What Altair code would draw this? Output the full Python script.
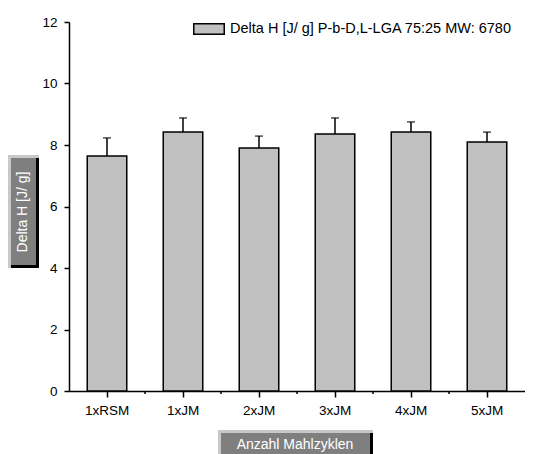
import altair as alt
import pandas as pd

categories = ["1xRSM", "1xJM", "2xJM", "3xJM", "4xJM", "5xJM"]
values = [7.64, 8.42, 7.90, 8.36, 8.42, 8.10]
errors = [0.59, 0.46, 0.39, 0.52, 0.33, 0.32]
series_name = "Delta H [J/ g] P-b-D,L-LGA 75:25 MW: 6780"
y_title = "Delta H [J/ g]"
x_title = "Anzahl Mahlzyklen"
y_ticks = list(range(0, 13))

df = pd.DataFrame({
    "cat": categories,
    "val": values,
    "err": errors,
})
df["top"] = df["val"] + df["err"]
df["series"] = series_name

FONT = "Liberation Sans"
W, H = 456, 369
STEP = W / len(categories)

xenc = alt.X("cat:N", sort=categories, title=None,
             scale=alt.Scale(paddingInner=0.48, paddingOuter=0.24),
             axis=alt.Axis(labelAngle=0, labelFontSize=13.5, labelFont=FONT, labelColor="black",
                           tickSize=6, tickWidth=1.5, tickColor="black", domainColor="black",
                           domainWidth=1.5, labelPadding=6))
yenc = alt.Y("val:Q", title=None,
             scale=alt.Scale(domain=[0, 12], nice=False),
             axis=alt.Axis(values=y_ticks, labelExpr="datum.value % 2 == 0 ? datum.label : ''",
                           labelFontSize=13.5, labelFont=FONT, labelColor="black",
                           tickSize=5, tickWidth=1.5, tickColor="black", domainColor="black",
                           domainWidth=1.5, labelPadding=7, grid=False))

base = alt.Chart(df)

bars = base.mark_bar(stroke="black", strokeWidth=1.5).encode(
    x=xenc, y=yenc,
    fill=alt.Fill("series:N", title=None,
                  scale=alt.Scale(domain=[series_name], range=["#c0c0c0"]),
                  legend=alt.Legend(orient="none", legendX=124, legendY=-9, padding=0,
                                    symbolType="M-1,-0.34L1,-0.34L1,0.34L-1,0.34Z",
                                    symbolSize=930, symbolStrokeColor="black",
                                    symbolStrokeWidth=1.5, labelFontSize=14.5, labelFont=FONT,
                                    labelColor="black", labelOffset=5, labelLimit=0)),
)

err_rule = base.mark_rule(color="black", strokeWidth=1.5).encode(
    x=alt.X("cat:N", sort=categories),
    y="val:Q", y2="top:Q",
)
err_cap = base.mark_tick(color="black", thickness=1.5, size=8, orient="horizontal").encode(
    x=alt.X("cat:N", sort=categories),
    y="top:Q",
)

minor = base.transform_filter(
    alt.datum.cat != categories[-1]
).mark_rule(color="black", strokeWidth=1.5, xOffset=0.24 * STEP).encode(
    x=alt.X("cat:N", sort=categories, bandPosition=1),
    y=alt.value(H), y2=alt.value(H + 3),
)

one = alt.Data(values=[{}])

def box(x0, x1, y0, y1):
    light = alt.Chart(one).mark_rect(color="#c8c8c8").encode(
        x=alt.value(x0), x2=alt.value(x1), y=alt.value(y0), y2=alt.value(y1))
    dark = alt.Chart(one).mark_rect(color="black").encode(
        x=alt.value(x0 + 3), x2=alt.value(x1), y=alt.value(y0 + 3), y2=alt.value(y1))
    mid = alt.Chart(one).mark_rect(color="#7f7f7f").encode(
        x=alt.value(x0 + 3), x2=alt.value(x1 - 3), y=alt.value(y0 + 3), y2=alt.value(y1 - 3))
    return [light, dark, mid]

ybox = box(-61, -30, 133, 246)
ytext = alt.Chart(one).mark_text(color="white", fontSize=14, font=FONT, angle=270,
                                 align="center", baseline="middle").encode(
    x=alt.value(-46), y=alt.value(190), text=alt.value(y_title))
xbox = box(149, 304, 408, 440)
xtext = alt.Chart(one).mark_text(color="white", fontSize=14, font=FONT,
                                 align="center", baseline="middle").encode(
    x=alt.value(226), y=alt.value(423), text=alt.value(x_title))

chart = alt.layer(bars, err_rule, err_cap, minor, *ybox, ytext, *xbox, xtext).properties(
    width=W, height=H,
    padding={"left": 61, "top": 14, "right": 0, "bottom": 63},
    autosize=alt.AutoSizeParams(type="none"),
).configure_view(stroke=None)

chart.save("out.html", embed_options={"renderer": "svg", "actions": False})
